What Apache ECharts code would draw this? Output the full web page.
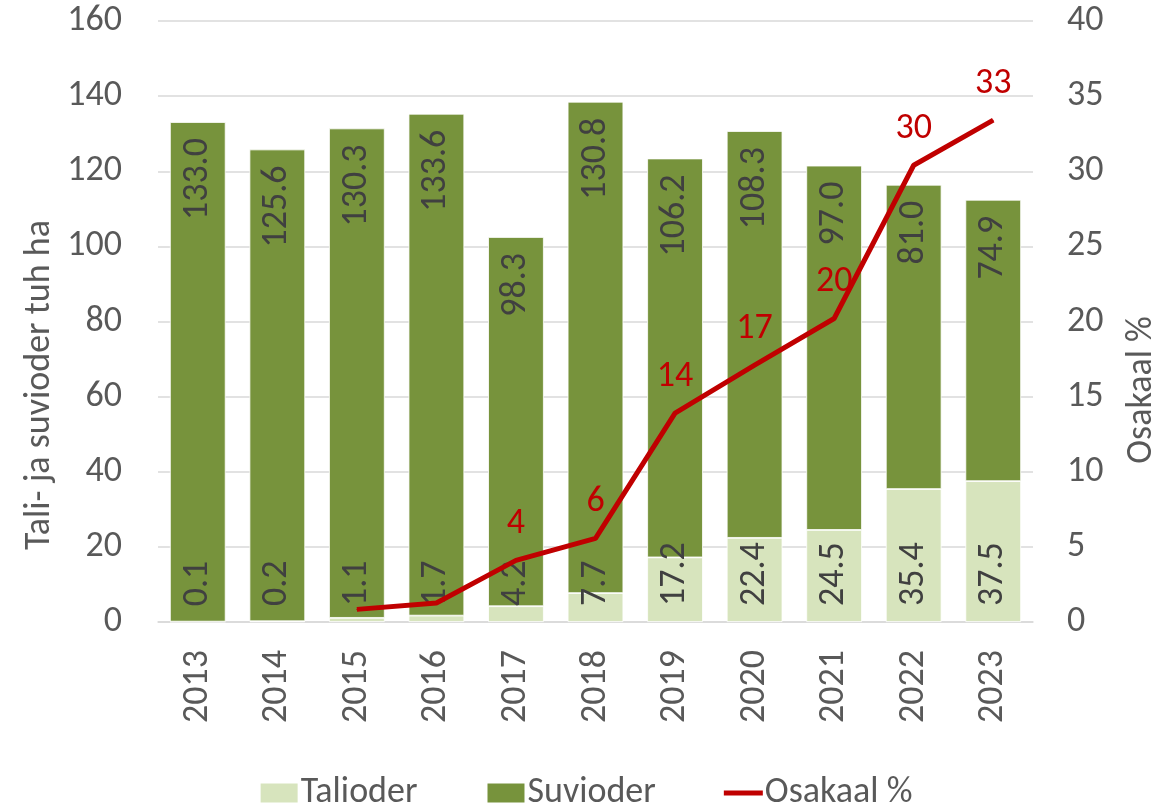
<!DOCTYPE html>
<html>
<head>
<meta charset="utf-8">
<script src="https://cdn.jsdelivr.net/npm/echarts@6/dist/echarts.min.js"></script>
<style>
  html, body { margin: 0; padding: 0; background: #fff; }
  #chart { width: 1171px; height: 811px; }
</style>
</head>
<body>
<div id="chart"></div>
<script>
var years = ['2013', '2014', '2015', '2016', '2017', '2018', '2019', '2020', '2021', '2022', '2023'];
var talioder = [0.1, 0.2, 1.1, 1.7, 4.2, 7.7, 17.2, 22.4, 24.5, 35.4, 37.5];
var suvioder = [133.0, 125.6, 130.3, 133.6, 98.3, 130.8, 106.2, 108.3, 97.0, 81.0, 74.9];
// share of talioder, %; no line for 2013-2014
var osakaal = [null, null, 0.84, 1.26, 4.1, 5.56, 13.9, 17.1, 20.2, 30.4, 33.4];
var hiddenLabels = ['2015', '2016'];

var font = 'Carlito, Lato, sans-serif';
var grey = '#595959';
var fs = 36;

var lineData = osakaal.map(function (v, i) {
    if (hiddenLabels.indexOf(years[i]) >= 0) {
        return { value: v, label: { show: false } };
    }
    return v;
});

var myChart = echarts.init(document.getElementById('chart'));
var option = {
    animation: false,
    textStyle: { fontFamily: font },
    grid: { left: 158, right: 138, top: 21, bottom: 189 },
    legend: {
        top: 775,
        left: 'center',
        padding: 0,
        itemWidth: 39,
        itemHeight: 21,
        itemGap: 68,
        textStyle: { fontSize: fs, color: grey, fontFamily: font, padding: [0, 0, 0, -3] },
        data: [
            { name: 'Talioder', icon: 'rect' },
            { name: 'Suvioder', icon: 'rect' },
            { name: 'Osakaal %', icon: 'path://M0,0L40,0L40,5L0,5Z' }
        ]
    },
    xAxis: {
        type: 'category',
        data: years,
        axisLine: { lineStyle: { color: '#D9D9D9', width: 1.5 } },
        axisTick: { show: false },
        axisLabel: { rotate: 90, margin: 28, fontSize: fs, color: grey, fontFamily: font }
    },
    yAxis: [
        {
            type: 'value',
            min: 0, max: 160, interval: 20,
            axisLine: { show: false },
            axisTick: { show: false },
            axisLabel: { margin: 36, fontSize: fs, color: grey, fontFamily: font },
            splitLine: { lineStyle: { color: '#D9D9D9', width: 1.5 } }
        },
        {
            type: 'value',
            min: 0, max: 40, interval: 5,
            axisLine: { show: false },
            axisTick: { show: false },
            axisLabel: { margin: 34, fontSize: fs, color: grey, fontFamily: font },
            splitLine: { show: false }
        }
    ],
    graphic: [
        {
            type: 'text', x: 40, y: 385, rotation: Math.PI / 2,
            style: { text: 'Tali- ja suvioder tuh ha', fontSize: fs, fontFamily: font, fill: grey,
                     textAlign: 'center', textVerticalAlign: 'middle' }
        },
        {
            type: 'text', x: 1142, y: 390, rotation: Math.PI / 2,
            style: { text: 'Osakaal %', fontSize: fs, fontFamily: font, fill: grey,
                     textAlign: 'center', textVerticalAlign: 'middle' }
        }
    ],
    series: [
        {
            name: 'Talioder',
            type: 'bar',
            stack: 'oder',
            barWidth: '70%',
            data: talioder,
            itemStyle: { color: '#D7E4BD', borderColor: '#ffffff', borderWidth: 0.8 },
            label: {
                show: true,
                position: 'insideBottom',
                distance: 16,
                rotate: 90,
                align: 'left',
                verticalAlign: 'middle',
                fontSize: fs,
                color: '#404040',
                fontFamily: font,
                formatter: function (p) { return p.value.toFixed(1); }
            }
        },
        {
            name: 'Suvioder',
            type: 'bar',
            stack: 'oder',
            barWidth: '70%',
            data: suvioder,
            itemStyle: { color: '#77933C', borderColor: '#ffffff', borderWidth: 0.8 },
            label: {
                show: true,
                position: 'insideTop',
                distance: 16,
                rotate: 90,
                align: 'right',
                verticalAlign: 'middle',
                fontSize: fs,
                color: '#404040',
                fontFamily: font,
                formatter: function (p) { return p.value.toFixed(1); }
            }
        },
        {
            name: 'Osakaal %',
            type: 'line',
            yAxisIndex: 1,
            data: lineData,
            symbol: 'circle',
            symbolSize: 1,
            itemStyle: { color: '#C00000' },
            lineStyle: { color: '#C00000', width: 5 },
            label: {
                show: true,
                position: 'top',
                distance: 18,
                fontSize: fs,
                color: '#C00000',
                fontFamily: font,
                formatter: function (p) { return Math.round(p.value); }
            },
            z: 5
        }
    ]
};
myChart.setOption(option);
</script>
</body>
</html>
